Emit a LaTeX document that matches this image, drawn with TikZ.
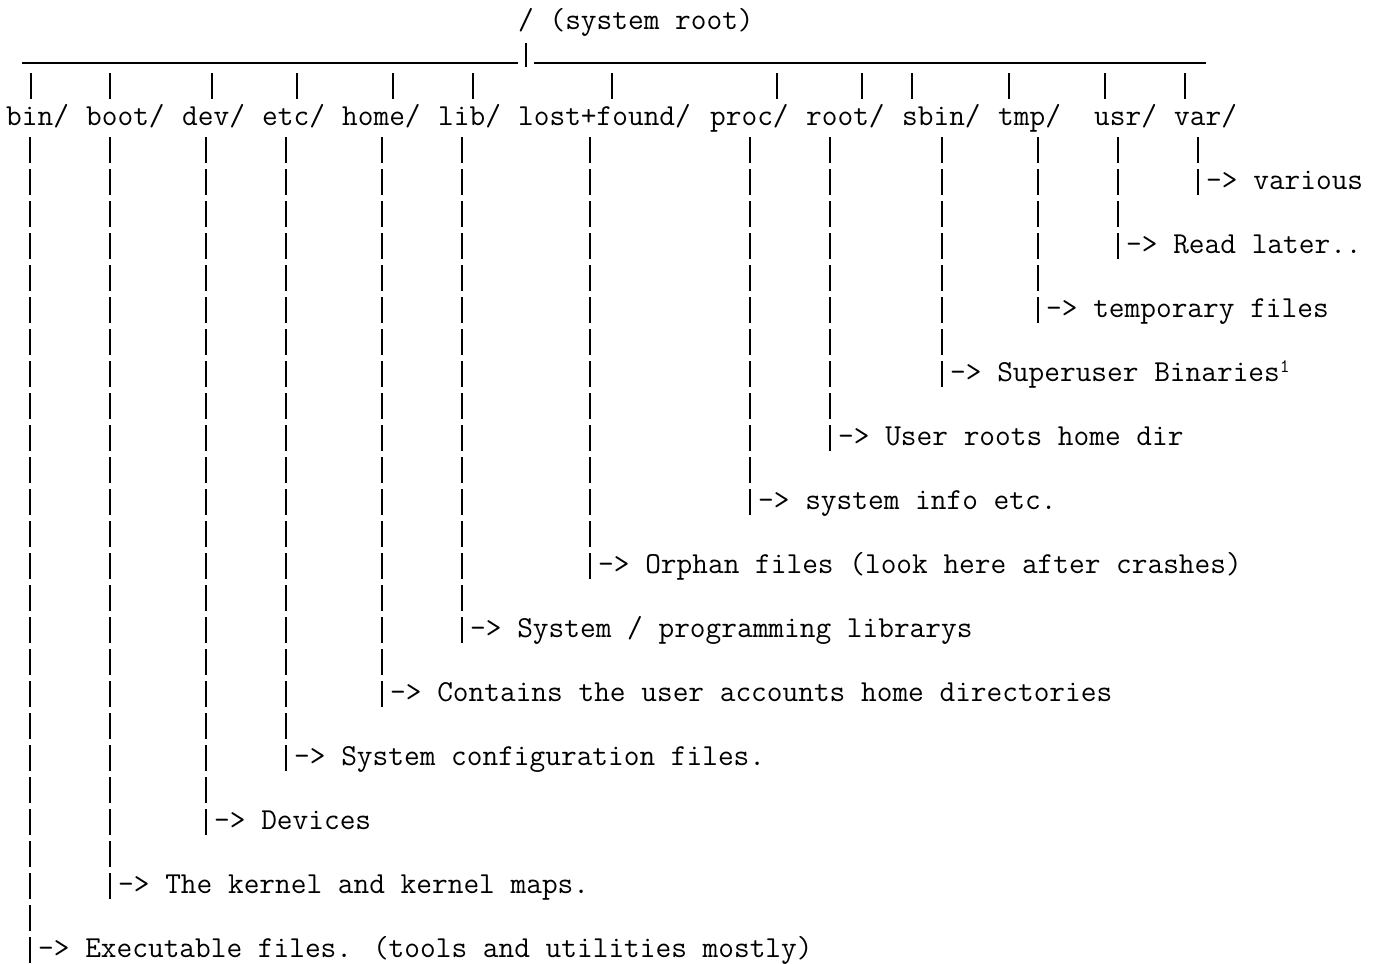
\documentclass[tikz,border=0pt]{standalone}
\usepackage{tikz}

\begin{document}
\begin{tikzpicture}[x=1pt,y=-1pt,
    txt/.style={anchor=base west,inner sep=0pt,font=\ttfamily\fontsize{30.48}{32}\selectfont},
    bar/.style={line width=1.2pt},
    pipe/.style={line width=1.2pt,dash pattern=on 26pt off 6pt},
    branch/.style={line width=1.1pt}]
            \fill[white] (0,0) rectangle (1377,962);
            % root and the branch line
            \node[txt] (sysroot) at (518,29) {/ (system root)};
            \coordinate (bl) at (22,63);
            \coordinate (br) at (1206,63);
            \draw[branch] (bl) -- (518,63);
            \draw[bar] (526,43) -- (526,67);
            \draw[branch] (534,63) -- (br);
            % directories
            \node[txt] (bin) at (6,125) {bin/};
            \node[txt] (boot) at (86,125) {boot/};
            \node[txt] (dev) at (182,125) {dev/};
            \node[txt] (etc) at (262,125) {etc/};
            \node[txt] (home) at (342,125) {home/};
            \node[txt] (lib) at (438,125) {lib/};
            \node[txt] (lost) at (518,125) {lost+found/};
            \node[txt] (proc) at (710,125) {proc/};
            \node[txt] (rootdir) at (806,125) {root/};
            \node[txt] (sbin) at (902,125) {sbin/};
            \node[txt] (tmp) at (998,125) {tmp/};
            \node[txt] (usr) at (1094,125) {usr/};
            \node[txt] (var) at (1174,125) {var/};
            % bars under the branch line
            \draw[bar] (31,73) -- (31,99);
            \draw[bar] (110,73) -- (110,99);
            \draw[bar] (212,73) -- (212,99);
            \draw[bar] (297,73) -- (297,99);
            \draw[bar] (393,73) -- (393,99);
            \draw[bar] (473,73) -- (473,99);
            \draw[bar] (612,73) -- (612,99);
            \draw[bar] (777,73) -- (777,99);
            \draw[bar] (862,73) -- (862,99);
            \draw[bar] (912,73) -- (912,99);
            \draw[bar] (1009,73) -- (1009,99);
            \draw[bar] (1105,73) -- (1105,99);
            \draw[bar] (1185,73) -- (1185,99);
            % descriptions
            \node[txt] (varlbl) at (1206,189) {-> various};
            \node[txt] (usrlbl) at (1126,253) {-> Read later..};
            \node[txt] (tmplbl) at (1046,317) {-> temporary files};
            \node[txt] (sbinlbl) at (950,381) {-> Superuser Binaries\raisebox{9pt}{\fontsize{19}{19}\selectfont 1}};
            \node[txt] (rootlbl) at (838,445) {-> User roots home dir};
            \node[txt] (proclbl) at (758,509) {-> system info etc.};
            \node[txt] (lostlbl) at (598,573) {-> Orphan files (look here after crashes)};
            \node[txt] (liblbl) at (470,637) {-> System / programming librarys};
            \node[txt] (homelbl) at (390,701) {-> Contains the user accounts home directories};
            \node[txt] (etclbl) at (294,765) {-> System configuration files.};
            \node[txt] (devlbl) at (214,829) {-> Devices};
            \node[txt] (bootlbl) at (118,893) {-> The kernel and kernel maps.};
            \node[txt] (binlbl) at (38,957) {-> Executable files. (tools and utilities mostly)};
            % columns down to the descriptions
            \draw[pipe] (1198,137) -- (1198,195);
            \draw[pipe] (1118,137) -- (1118,259);
            \draw[pipe] (1038,137) -- (1038,323);
            \draw[pipe] (942,137) -- (942,387);
            \draw[pipe] (830,137) -- (830,451);
            \draw[pipe] (750,137) -- (750,515);
            \draw[pipe] (590,137) -- (590,579);
            \draw[pipe] (462,137) -- (462,643);
            \draw[pipe] (382,137) -- (382,707);
            \draw[pipe] (286,137) -- (286,771);
            \draw[pipe] (206,137) -- (206,835);
            \draw[pipe] (110,137) -- (110,899);
            \draw[pipe] (30,137) -- (30,963);
            \useasboundingbox (0,0) rectangle (1377,962);
        \end{tikzpicture}
\end{document}
